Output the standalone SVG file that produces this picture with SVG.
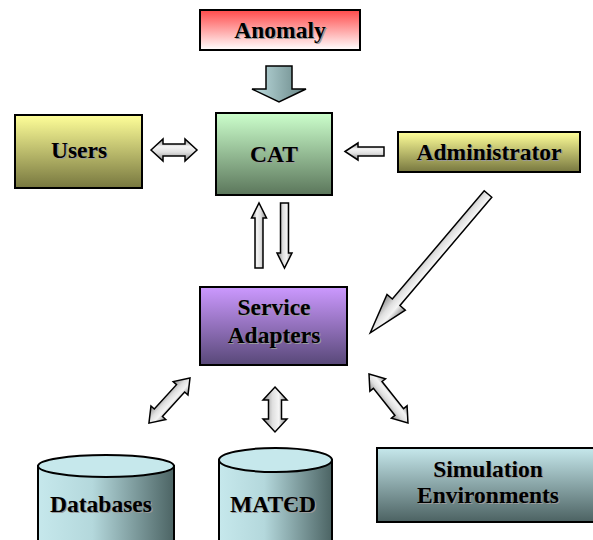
<svg xmlns="http://www.w3.org/2000/svg" width="593" height="540" viewBox="0 0 593 540">
<defs>
<linearGradient id="gRed" x1="0" y1="0" x2="0" y2="1"><stop offset="0" stop-color="#ff4a4a"/><stop offset="1" stop-color="#ffffff"/></linearGradient>
<linearGradient id="gYel" x1="0" y1="0" x2="0" y2="1"><stop offset="0" stop-color="#ffff99"/><stop offset="1" stop-color="#77773f"/></linearGradient>
<linearGradient id="gGrn" x1="0" y1="0" x2="0" y2="1"><stop offset="0" stop-color="#ccffcc"/><stop offset="1" stop-color="#5b765b"/></linearGradient>
<linearGradient id="gPur" x1="0" y1="0" x2="0" y2="1"><stop offset="0" stop-color="#cc99ff"/><stop offset="1" stop-color="#584878"/></linearGradient>
<linearGradient id="gSim" x1="0" y1="0" x2="0" y2="1"><stop offset="0" stop-color="#c6e8ec"/><stop offset="1" stop-color="#4c6262"/></linearGradient>
<linearGradient id="gCyl" x1="0" y1="0" x2="1" y2="0"><stop offset="0" stop-color="#c6e8ec"/><stop offset="0.4" stop-color="#b4d8dc"/><stop offset="1" stop-color="#4c6464"/></linearGradient>
<linearGradient id="gTeal" x1="0" y1="0" x2="1" y2="0"><stop offset="0" stop-color="#c0dfe2"/><stop offset="1" stop-color="#668484"/></linearGradient>
<linearGradient id="gMet" x1="0" y1="0" x2="0" y2="1"><stop offset="0" stop-color="#8a8a8a"/><stop offset="0.35" stop-color="#f4f4f4"/><stop offset="0.6" stop-color="#e0e0e0"/><stop offset="1" stop-color="#8a8a8a"/></linearGradient>
</defs>
<style>
.box{stroke:#000;stroke-width:2}
.arr{fill:url(#gMet);stroke:#000;stroke-width:1.5;stroke-linejoin:miter}
.t{font-family:"Liberation Serif","Times New Roman",serif;font-weight:bold;font-size:23.5px;text-anchor:middle;fill:#000}
.s{font-family:"Liberation Serif","Times New Roman",serif;font-weight:bold;font-size:23.5px;text-anchor:middle;fill:#9a9a9a}
</style>

<g id="connectors">
  <!-- Anomaly -> CAT -->
  <path d="M266,66 L292,66 L292,89 L306,89 L279,102 L252,89 L266,89 Z" fill="url(#gTeal)" stroke="#000" stroke-width="1.5"/>
  <!-- Users <-> CAT -->
  <path class="arr" transform="translate(151,150)" d="M0,0 L12,-11 L12,-6 L34,-6 L34,-11 L46,0 L34,11 L34,6 L12,6 L12,11 Z"/>
  <!-- Administrator -> CAT -->
  <path class="arr" transform="translate(345,151.5)" d="M0,0 L13,-8.5 L13,-4.5 L39,-4.5 L39,4.5 L13,4.5 L13,8.5 Z"/>
  <!-- Service Adapters -> CAT (up) -->
  <path class="arr" transform="translate(259,268) rotate(-90)" d="M0,-4 L50,-4 L50,-7.5 L65,0 L50,7.5 L50,4 L0,4 Z"/>
  <!-- CAT -> Service Adapters (down) -->
  <path class="arr" transform="translate(284.5,203) rotate(90)" d="M0,-4 L50,-4 L50,-7.5 L65,0 L50,7.5 L50,4 L0,4 Z"/>
  <!-- Administrator -> Service Adapters (diagonal) -->
  <path class="arr" transform="translate(488,194) rotate(130.3)" d="M0,-5 L142,-5 L142,-12 L182,0 L142,12 L142,5 L0,5 Z"/>
  <!-- Service Adapters <-> Databases -->
  <path class="arr" transform="translate(190,378) rotate(132.3)" d="M0,0 L14,-10 L14,-5.5 L47,-5.5 L47,-10 L61,0 L47,10 L47,5.5 L14,5.5 L14,10 Z"/>
  <!-- Service Adapters <-> MATED -->
  <path class="arr" transform="translate(275,387) rotate(90)" d="M0,0 L13,-12 L13,-6.5 L32,-6.5 L32,-12 L45,0 L32,12 L32,6.5 L13,6.5 L13,12 Z"/>
  <!-- Service Adapters <-> Simulation Environments -->
  <path class="arr" transform="translate(369,374) rotate(51.5)" d="M0,0 L14,-10 L14,-5.5 L48.6,-5.5 L48.6,-10 L62.6,0 L48.6,10 L48.6,5.5 L14,5.5 L14,10 Z"/>
</g>

<g id="anomaly">
  <rect class="box" x="200" y="10" width="160" height="40" fill="url(#gRed)"/>
  <text class="s" x="281.2" y="39.2">Anomaly</text>
  <text class="t" x="280" y="38">Anomaly</text>
</g>

<g id="users">
  <rect class="box" x="15" y="115" width="127" height="73" fill="url(#gYel)"/>
  <text class="s" x="80.2" y="159.2">Users</text>
  <text class="t" x="79" y="158">Users</text>
</g>

<g id="cat">
  <rect class="box" x="216" y="113" width="116" height="82" fill="url(#gGrn)"/>
  <text class="s" x="275.2" y="163.2">CAT</text>
  <text class="t" x="274" y="162">CAT</text>
</g>

<g id="administrator">
  <rect class="box" x="398" y="132" width="182" height="40" fill="url(#gYel)"/>
  <text class="s" x="490.2" y="161.2">Administrator</text>
  <text class="t" x="489" y="160">Administrator</text>
</g>

<g id="service-adapters">
  <rect class="box" x="200" y="287" width="147" height="78" fill="url(#gPur)"/>
  <text class="s" x="275.2" y="316.2">Service</text>
  <text class="t" x="274" y="315">Service</text>
  <text class="s" x="275.2" y="344.2">Adapters</text>
  <text class="t" x="274" y="343">Adapters</text>
</g>

<g id="databases">
  <path class="box" d="M38,466 L38,548 L174,548 L174,466 Z" fill="url(#gCyl)"/>
  <ellipse class="box" cx="106" cy="466" rx="68" ry="11" fill="#c6e8ec"/>
  <text class="s" x="102.2" y="513.2">Databases</text>
  <text class="t" x="101" y="512">Databases</text>
</g>

<g id="mated">
  <path class="box" d="M219,460 L219,548 L332,548 L332,460 Z" fill="url(#gCyl)"/>
  <ellipse class="box" cx="275.5" cy="460" rx="56.5" ry="12" fill="#c6e8ec"/>
  <text class="s" x="274.2" y="513.2">MATЄD</text>
  <text class="t" x="273" y="512">MATЄD</text>
</g>

<g id="simulation-environments">
  <rect class="box" x="377" y="448" width="220" height="74" fill="url(#gSim)"/>
  <text class="s" x="489.2" y="478.2">Simulation</text>
  <text class="t" x="488" y="477">Simulation</text>
  <text class="s" x="489.2" y="504.2">Environments</text>
  <text class="t" x="488" y="503">Environments</text>
</g>
</svg>
